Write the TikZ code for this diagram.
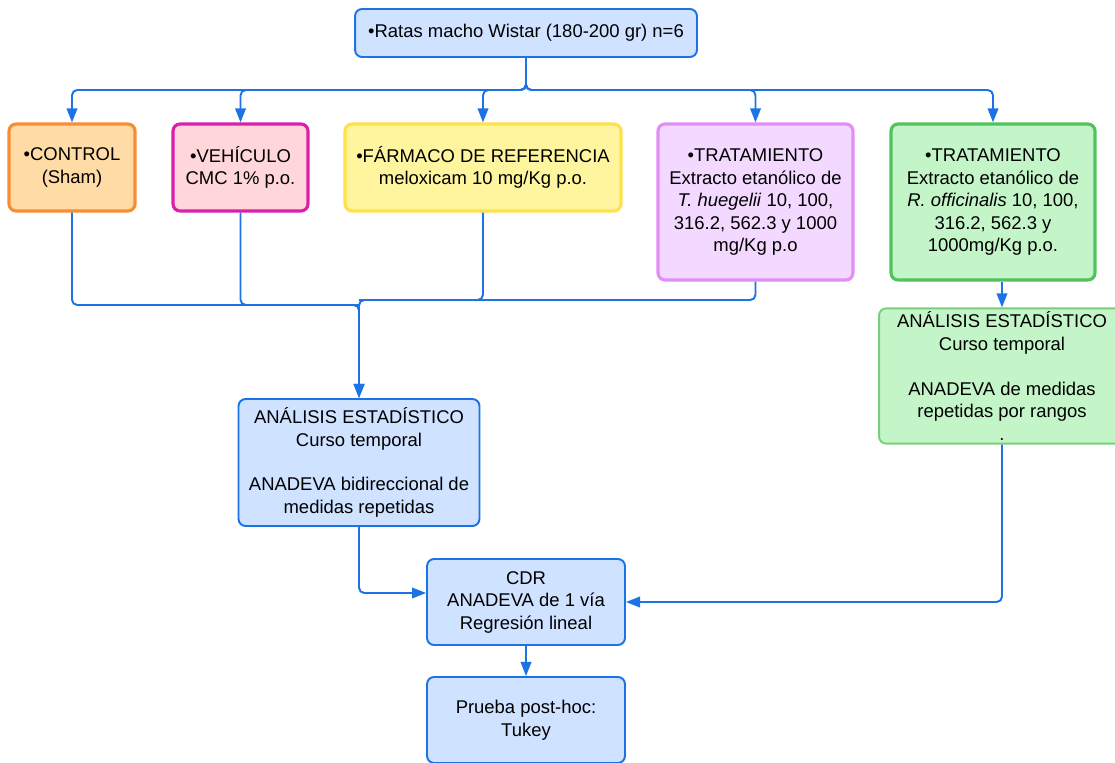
\documentclass[tikz,border=0pt]{standalone}
\usepackage{fontspec}
\setmainfont{Liberation Sans}
\usetikzlibrary{arrows.meta,calc}
\definecolor{rline}{HTML}{1C73E6}
\definecolor{rbluefill}{HTML}{CFE2FF}
\definecolor{rorange}{HTML}{FA8C32}
\definecolor{rorangefill}{HTML}{FFDBA6}
\definecolor{rpink}{HTML}{DC1EAA}
\definecolor{rpinkfill}{HTML}{FFD6DA}
\definecolor{ryellow}{HTML}{FFE24A}
\definecolor{ryellowfill}{HTML}{FFF59E}
\definecolor{rviolet}{HTML}{E28EF6}
\definecolor{rvioletfill}{HTML}{F3D9FF}
\definecolor{rgreen}{HTML}{52C35C}
\definecolor{rgreenlite}{HTML}{78CF78}
\definecolor{rgreenfill}{HTML}{C3F5C8}
\tikzset{
  base/.style={rounded corners=4pt,align=center,font=\fontsize{10.5}{12.8}\selectfont,inner sep=2pt},
  blueb/.style={base,draw=rline,fill=rbluefill,line width=1.1pt},
  orangeb/.style={base,draw=rorange,fill=rorangefill,line width=1.8pt},
  pinkb/.style={base,draw=rpink,fill=rpinkfill,line width=1.8pt},
  yellowb/.style={base,draw=ryellow,fill=ryellowfill,line width=1.8pt},
  violetb/.style={base,draw=rviolet,fill=rvioletfill,line width=1.8pt},
  greenb/.style={base,draw=rgreen,fill=rgreenfill,line width=1.8pt},
  greenlb/.style={base,draw=rgreenlite,fill=rgreenfill,line width=1.1pt},
  ln/.style={line width=1.1pt,draw=rline,rounded corners=3pt},
  arr/.style={ln,-{Triangle[length=8pt,width=6pt]}},
}
\begin{document}
\begin{tikzpicture}[x=0.02cm,y=-0.02cm]
  \clip (0,0) rectangle (1115,763);
  % grupos
  \node[blueb,minimum width=6.84cm,minimum height=0.96cm] (ratas) at (526,33) {•Ratas macho Wistar (180-200 gr) n=6};
  \node[orangeb,minimum width=2.52cm,minimum height=1.74cm] (control) at (72,167.5) {•CONTROL\\(Sham)};
  \node[pinkb,minimum width=2.70cm,minimum height=1.74cm] (vehiculo) at (240.5,167.5) {•VEHÍCULO\\CMC 1\% p.o.};
  \node[yellowb,minimum width=5.52cm,minimum height=1.74cm] (farmaco) at (483,167.5) {•FÁRMACO DE REFERENCIA\\meloxicam 10 mg/Kg p.o.};
  \node[violetb,minimum width=3.90cm,minimum height=3.12cm] (tratT) at (755.5,202) {•TRATAMIENTO\\Extracto etanólico de\\\textit{T. huegelii} 10, 100,\\316.2, 562.3 y 1000\\mg/Kg p.o};
  \node[greenb,minimum width=4.08cm,minimum height=3.12cm] (tratR) at (993,202) {•TRATAMIENTO\\Extracto etanólico de\\\textit{R. officinalis} 10, 100,\\316.2, 562.3 y\\1000mg/Kg p.o.};
  % analisis
  \node[greenlb,minimum width=4.92cm,minimum height=2.68cm] (anaR) at (1002,376) {ANÁLISIS ESTADÍSTICO\\Curso temporal\\[12.6pt]ANADEVA de medidas\\repetidas por rangos\\.};
  \node[blueb,minimum width=4.82cm,minimum height=2.54cm] (anaL) at (359,462.5) {ANÁLISIS ESTADÍSTICO\\Curso temporal\\[12.6pt]ANADEVA bidireccional de\\medidas repetidas};
  \node[blueb,minimum width=3.96cm,minimum height=1.72cm] (cdr) at (526,602) {CDR\\ANADEVA de 1 vía\\Regresión lineal};
  \node[blueb,minimum width=3.96cm,minimum height=1.72cm] (tukey) at (526,720) {Prueba post-hoc:\\Tukey};
  % conexiones
  \coordinate (bus) at (526,90);
  \coordinate (mergeA) at (359,305);
  \coordinate (mergeB) at (359,300);
  \foreach \g in {control,vehiculo,farmaco,tratT,tratR}
    \draw[arr] (ratas.south) -- (bus) -| (\g.north);
  \draw[arr] (control.south) |- (mergeA) -- (anaL.north);
  \draw[ln] (vehiculo.south) |- (mergeA);
  \draw[arr] (tratT.south) |- (mergeB) -- (anaL.north);
  \draw[ln] (farmaco.south) |- (mergeB);
  \draw[arr] (anaR.north |- tratR.south) -- (anaR.north);
  \draw[arr] (anaR.south) |- (cdr.east);
  \draw[arr] (anaL.south) |- ($(cdr.west)+(0,-9)$);
  \draw[arr] (cdr.south) -- (tukey.north);
\end{tikzpicture}
\end{document}
